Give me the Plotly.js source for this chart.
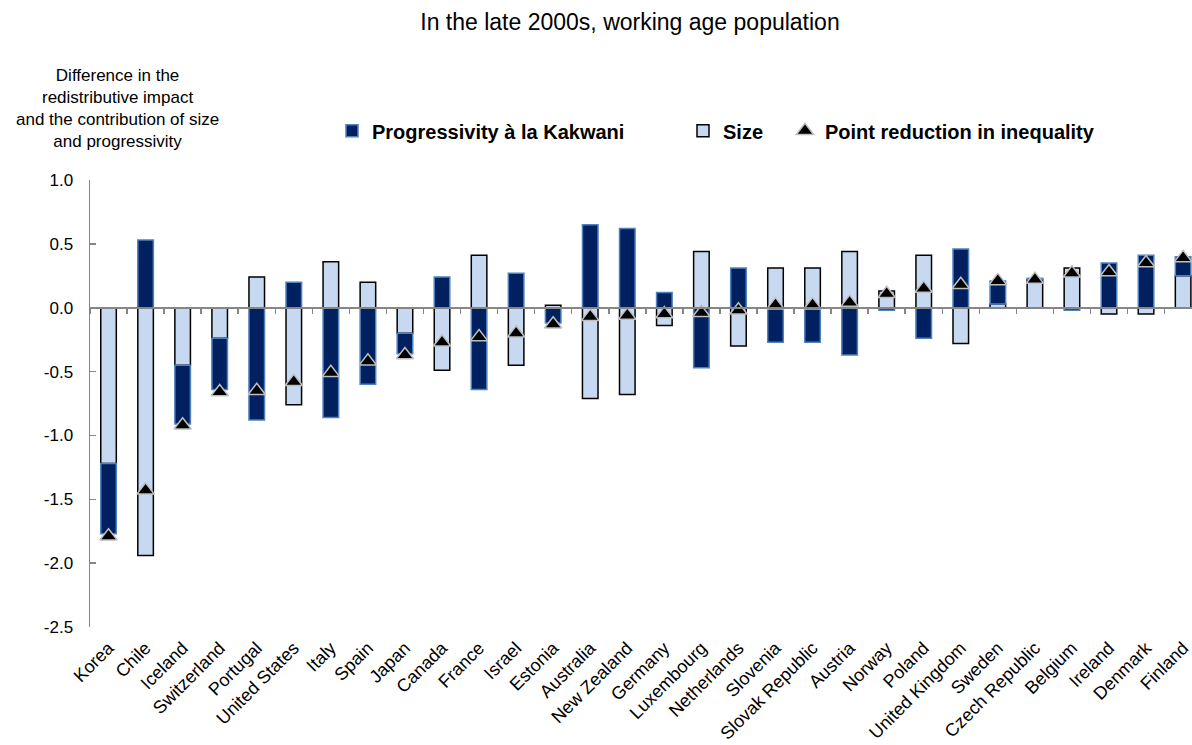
<!DOCTYPE html>
<html>
<head>
<meta charset="utf-8">
<script src="https://cdn.plot.ly/plotly-3.0.1.min.js"></script>
<style>
html,body{margin:0;padding:0;background:#fff;overflow:hidden;}
#chart{width:1192px;height:745px;}
</style>
</head>
<body>
<div id="chart"></div>
<script>
const categories = ["Korea","Chile","Iceland","Switzerland","Portugal","United States","Italy","Spain","Japan","Canada","France","Israel","Estonia","Australia","New Zealand","Germany","Luxembourg","Netherlands","Slovenia","Slovak Republic","Austria","Norway","Poland","United Kingdom","Sweden","Czech Republic","Belgium","Ireland","Denmark","Finland"];
const sizeValues = [-1.22,-1.94,-0.45,-0.24,0.24,-0.76,0.36,0.20,-0.20,-0.49,0.41,-0.45,0.02,-0.71,-0.68,-0.14,0.44,-0.30,0.31,0.31,0.44,0.13,0.41,-0.28,0.03,0.22,0.31,-0.05,-0.05,0.25];
const progressivityValues = [-0.55,0.53,-0.46,-0.40,-0.88,0.20,-0.86,-0.60,-0.16,0.24,-0.64,0.27,-0.12,0.65,0.62,0.12,-0.47,0.31,-0.27,-0.27,-0.37,-0.02,-0.24,0.46,0.18,0.01,-0.02,0.35,0.41,0.15];
const pointReduction = [-1.79,-1.43,-0.92,-0.66,-0.65,-0.58,-0.51,-0.42,-0.37,-0.27,-0.23,-0.20,-0.13,-0.07,-0.06,-0.05,-0.04,-0.02,0.02,0.02,0.04,0.11,0.15,0.18,0.21,0.22,0.27,0.28,0.35,0.39];
const yTicks = [-2.5,-2.0,-1.5,-1.0,-0.5,0.0,0.5,1.0];

const font = "Liberation Sans, Arial, sans-serif";
const n = categories.length;

const traces = [
  {
    type: "bar", name: "Size", x: categories, y: sizeValues,
    marker: {color: "#C6D9F1", line: {color: "#000000", width: 1.5}},
    legend: "legend2", hoverinfo: "x+y"
  },
  {
    type: "bar", name: "Progressivity à la Kakwani", x: categories, y: progressivityValues,
    marker: {color: "#002060", line: {color: "#4F81BD", width: 1.5}},
    legend: "legend", hoverinfo: "x+y"
  },
  {
    type: "scatter", mode: "markers", name: "Point reduction in inequality",
    x: categories, y: pointReduction,
    marker: {symbol: "triangle-up", size: 15, color: "#000000", line: {color: "#BFBFBF", width: 1.5}},
    legend: "legend3", hoverinfo: "x+y"
  },
  {
    type: "scatter", mode: "markers", x: categories, y: categories.map(() => null),
    xaxis: "x2", showlegend: false, hoverinfo: "skip", marker: {opacity: 0}
  }
];

const legendFont = {family: font, size: 20, color: "#000000", weight: "bold"};
const legendBase = {orientation: "h", xanchor: "left", y: 1.11, yanchor: "middle",
  font: legendFont, bgcolor: "rgba(0,0,0,0)", itemwidth: 30};
const xr = [-0.5, n - 0.5 - 0.26];
const layout = {
  width: 1192, height: 745,
  margin: {l: 90, r: 0, t: 180, b: 118},
  paper_bgcolor: "#ffffff", plot_bgcolor: "#ffffff",
  font: {family: font, size: 15, color: "#000000"},
  barmode: "relative", bargap: 0.58,
  title: {
    text: "In the late 2000s, working age population",
    font: {family: font, size: 23, color: "#000000"},
    x: (630 - 90)/1102, xanchor: "center", xref: "paper",
    y: 1 - 22/745, yanchor: "middle", yref: "container"
  },
  showlegend: true,
  legend: Object.assign({}, legendBase, {x: (332 - 90)/1102}),
  legend2: Object.assign({}, legendBase, {x: (683 - 90)/1102}),
  legend3: Object.assign({}, legendBase, {x: (785 - 90)/1102}),
  xaxis: {
    type: "category", categoryorder: "array", categoryarray: categories,
    range: xr, showline: false, ticks: "", showgrid: false, zeroline: false,
    tickangle: -45, tickfont: {family: font, size: 18, color: "#000000"},
    ticklabelstandoff: 6
  },
  xaxis2: {
    type: "category", categoryorder: "array", categoryarray: categories,
    range: xr, overlaying: "x", anchor: "free", position: 2.5/3.5,
    showline: true, linecolor: "#868686", linewidth: 2,
    ticks: "outside", tickson: "boundaries", ticklen: 5, tickwidth: 1.5, tickcolor: "#868686",
    showticklabels: false, showgrid: false, zeroline: false
  },
  yaxis: {
    range: [-2.5, 1.0], tickvals: yTicks, ticktext: yTicks.map(v => v.toFixed(1)),
    showline: true, linecolor: "#868686", linewidth: 1.5,
    ticks: "inside", ticklen: 6, tickwidth: 1.5, tickcolor: "#868686",
    showgrid: false, zeroline: false,
    tickfont: {family: font, size: 17, color: "#000000"}, ticklabelstandoff: 12
  },
  annotations: [{
    text: "Difference in the<br>redistributive impact<br>and the contribution of size<br>and progressivity",
    xref: "paper", yref: "paper", x: (117 - 90)/1102, y: (627 - 108)/447,
    xanchor: "center", yanchor: "middle", showarrow: false, align: "center",
    font: {family: font, size: 17, color: "#000000"}
  }]
};

Plotly.newPlot("chart", traces, layout, {displayModeBar: false, staticPlot: true});
</script>
</body>
</html>
